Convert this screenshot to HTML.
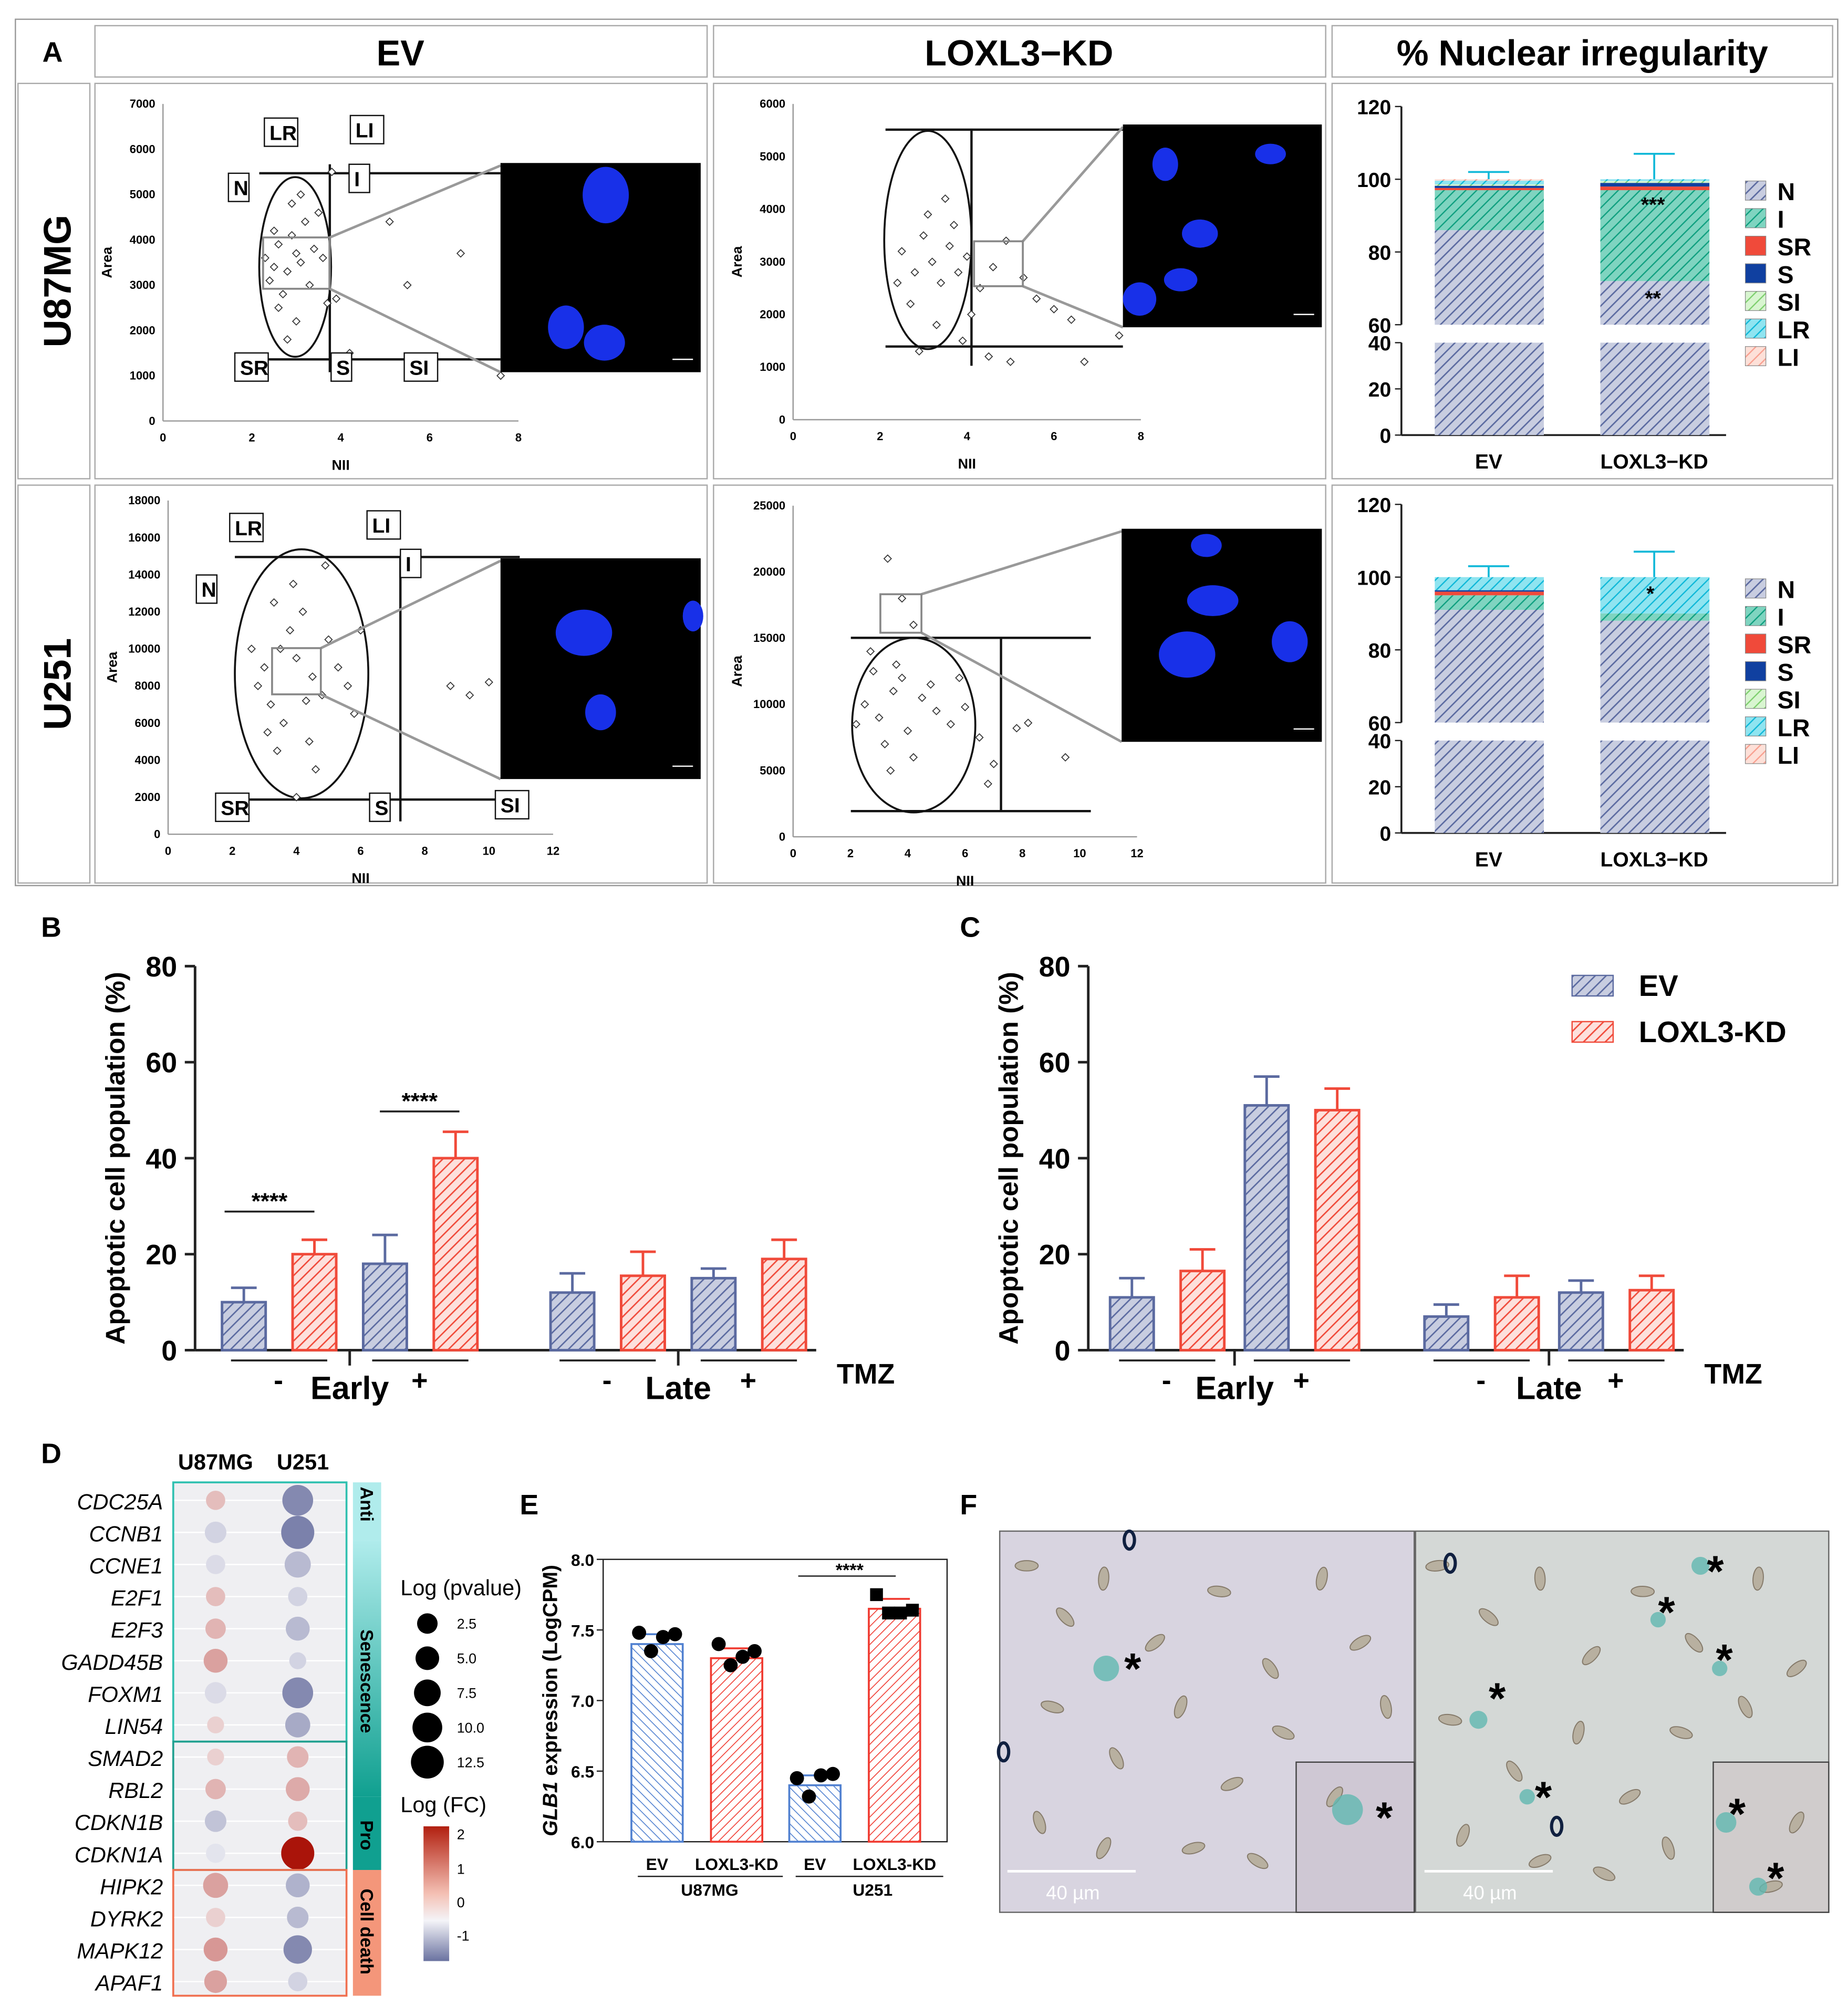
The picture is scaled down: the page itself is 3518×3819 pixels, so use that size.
<!DOCTYPE html>
<html><head><meta charset="utf-8"><style>
html,body{margin:0;padding:0;background:#fff}
svg{display:block}
text{font-family:"Liberation Sans",Arial,sans-serif}
</style></head><body>
<svg id="fig" width="3518" height="3819" viewBox="0 0 1440 1563" preserveAspectRatio="none" xmlns="http://www.w3.org/2000/svg">
<defs>
<pattern id="hBlue" width="6" height="6" patternUnits="userSpaceOnUse" patternTransform="rotate(45)"><rect width="6" height="6" fill="#c8cde0"/><line x1="0" y1="0" x2="0" y2="6" stroke="#5b6aa0" stroke-width="2.2"/></pattern>
<pattern id="hRed" width="6" height="6" patternUnits="userSpaceOnUse" patternTransform="rotate(45)"><rect width="6" height="6" fill="#fde0dc"/><line x1="0" y1="0" x2="0" y2="6" stroke="#f04a3a" stroke-width="2.2"/></pattern>
<pattern id="hTeal" width="6" height="6" patternUnits="userSpaceOnUse" patternTransform="rotate(45)"><rect width="6" height="6" fill="#7fd4c0"/><line x1="0" y1="0" x2="0" y2="6" stroke="#10a080" stroke-width="2"/></pattern>
<pattern id="hCyan" width="6" height="6" patternUnits="userSpaceOnUse" patternTransform="rotate(45)"><rect width="6" height="6" fill="#8fe4f0"/><line x1="0" y1="0" x2="0" y2="6" stroke="#10b8d8" stroke-width="2"/></pattern>
<pattern id="hLgreen" width="6" height="6" patternUnits="userSpaceOnUse" patternTransform="rotate(45)"><rect width="6" height="6" fill="#d8f5d0"/><line x1="0" y1="0" x2="0" y2="6" stroke="#80d070" stroke-width="2"/></pattern>
<pattern id="hPink" width="6" height="6" patternUnits="userSpaceOnUse" patternTransform="rotate(45)"><rect width="6" height="6" fill="#fde0d8"/><line x1="0" y1="0" x2="0" y2="6" stroke="#f8a090" stroke-width="2"/></pattern>
<pattern id="eBlue" width="5" height="5" patternUnits="userSpaceOnUse" patternTransform="rotate(-45)"><rect width="5" height="5" fill="#fff"/><line x1="0" y1="0" x2="0" y2="5" stroke="#5080d0" stroke-width="1.3"/></pattern>
<pattern id="eRed" width="5" height="5" patternUnits="userSpaceOnUse" patternTransform="rotate(45)"><rect width="5" height="5" fill="#fff"/><line x1="0" y1="0" x2="0" y2="5" stroke="#f03a30" stroke-width="1.3"/></pattern>
<linearGradient id="sideG" x1="0" y1="0" x2="0" y2="1"><stop offset="0" stop-color="#b0ecec"/><stop offset="1" stop-color="#10a090"/></linearGradient>
<linearGradient id="fcG" x1="0" y1="0" x2="0" y2="1"><stop offset="0" stop-color="#b22010"/><stop offset="0.5" stop-color="#f4c0b4"/><stop offset="0.7" stop-color="#f4f4f8"/><stop offset="1" stop-color="#6a72a0"/></linearGradient>
</defs>

<g>
<rect x="12" y="15" width="1420" height="675" fill="none" stroke="#999"/>
<text x="33" y="48" font-size="22" font-weight="bold">A</text>
<rect x="74" y="20" width="477" height="40" fill="none" stroke="#aaa"/>
<text x="312" y="51" font-size="28" font-weight="bold" text-anchor="middle">EV</text>
<rect x="556" y="20" width="477" height="40" fill="none" stroke="#aaa"/>
<text x="794" y="51" font-size="28" font-weight="bold" text-anchor="middle">LOXL3−KD</text>
<rect x="1038" y="20" width="390" height="40" fill="none" stroke="#aaa"/>
<text x="1233" y="51" font-size="28" font-weight="bold" text-anchor="middle">% Nuclear irregularity</text>
<rect x="14" y="65" width="56" height="308" fill="none" stroke="#aaa"/>
<text transform="translate(55,219) rotate(-90)" font-size="30" font-weight="bold" text-anchor="middle">U87MG</text>
<rect x="14" y="378" width="56" height="310" fill="none" stroke="#aaa"/>
<text transform="translate(55,533) rotate(-90)" font-size="30" font-weight="bold" text-anchor="middle">U251</text>
<rect x="74" y="65" width="477" height="308" fill="none" stroke="#aaa"/>
<rect x="556" y="65" width="477" height="308" fill="none" stroke="#aaa"/>
<rect x="1038" y="65" width="390" height="308" fill="none" stroke="#aaa"/>
<rect x="74" y="378" width="477" height="310" fill="none" stroke="#aaa"/>
<rect x="556" y="378" width="477" height="310" fill="none" stroke="#aaa"/>
<rect x="1038" y="378" width="390" height="310" fill="none" stroke="#aaa"/>
<g id="scatters"></g>
<g id="stacks"></g>
</g>

<text x="32" y="730" font-size="22" font-weight="bold">B</text>
<text x="748" y="730" font-size="22" font-weight="bold">C</text>
<g id="apop"></g>
<g>
<rect x="1225" y="760" width="32" height="16" fill="url(#hBlue)" stroke="#5b6aa0"/>
<text x="1277" y="776" font-size="23" font-weight="bold">EV</text>
<rect x="1225" y="796" width="32" height="16" fill="url(#hRed)" stroke="#f04a3a"/>
<text x="1277" y="812" font-size="23" font-weight="bold">LOXL3-KD</text>
</g>

<text x="32" y="1140" font-size="22" font-weight="bold">D</text>
<g id="dots"></g>

<text x="405" y="1180" font-size="22" font-weight="bold">E</text>
<g id="glb"></g>

<text x="748" y="1180" font-size="22" font-weight="bold">F</text>
<g>
<rect x="779" y="1193" width="323" height="297" fill="#d8d4e0" stroke="#666"/>
<rect x="1103" y="1193" width="322" height="297" fill="#d4d8d6" stroke="#666"/>
<rect x="1010" y="1373" width="92" height="117" fill="#cfc8d4" stroke="#444"/>
<rect x="1335" y="1373" width="90" height="117" fill="#d0cccc" stroke="#444"/>
<g id="cells"></g>
<line x1="785" y1="1458" x2="885" y2="1458" stroke="#fff" stroke-width="2"/>
<text x="815" y="1480" font-size="15" fill="#fff">40 µm</text>
<line x1="1110" y1="1458" x2="1210" y2="1458" stroke="#fff" stroke-width="2"/>
<text x="1140" y="1480" font-size="15" fill="#fff">40 µm</text>
<g font-size="34" font-weight="bold">
<text x="876" y="1312">*</text><text x="1072" y="1428">*</text>
<text x="1330" y="1236">*</text><text x="1292" y="1268">*</text><text x="1337" y="1305">*</text><text x="1160" y="1335">*</text><text x="1196" y="1412">*</text><text x="1347" y="1425">*</text><text x="1377" y="1475">*</text>
</g>
</g>
</svg>
<script>
const NS="http://www.w3.org/2000/svg";
function mk(p,tag,a,txt){const e=document.createElementNS(NS,tag);for(const k in a)e.setAttribute(k,a[k]);if(txt!==undefined)e.textContent=txt;p.appendChild(e);return e;}

const scU87EV=[[2.3,3600],[2.5,4200],[2.6,3900],[2.8,3300],[2.9,4100],[3.0,3700],[3.1,3500],[2.7,2800],[2.4,3100],[3.2,4400],[3.3,3000],[2.6,2500],[3.4,3800],[2.9,4800],[3.0,2200],[2.5,3400],[3.6,3600],[3.1,5000],[2.8,1800],[3.7,2600],[3.9,2700],[4.2,1500],[5.1,4400],[6.7,3700],[5.5,3000],[7.6,1000],[3.8,5500],[3.5,4600]];
const scU87KD=[[2.5,3200],[2.8,2800],[3.0,3500],[3.2,3000],[3.4,2600],[3.6,3300],[2.7,2200],[3.1,3900],[3.8,2800],[4.0,3100],[4.3,2500],[4.6,2900],[4.9,3400],[5.3,2700],[5.6,2300],[6.0,2100],[6.4,1900],[2.4,2600],[3.5,4200],[3.3,1800],[3.9,1500],[4.5,1200],[5.0,1100],[6.7,1100],[7.5,1600],[2.9,1300],[4.1,2000],[3.7,3700]];
const sc251EV=[[3.0,9000],[3.5,10000],[4.0,9500],[4.5,8500],[3.2,7000],[3.8,11000],[4.2,12000],[2.8,8000],[4.8,7500],[5.0,10500],[3.6,6000],[4.4,5000],[3.3,12500],[3.9,13500],[5.3,9000],[5.6,8000],[2.6,10000],[4.6,3500],[3.4,4500],[4.0,2000],[8.8,8000],[9.4,7500],[10.0,8200],[6.0,11000],[5.8,6500],[4.9,14500],[3.1,5500],[4.3,7200]];
const sc251KD=[[2.5,10000],[3.0,9000],[3.5,11000],[4.0,8000],[4.5,10500],[5.0,9500],[3.2,7000],[3.8,12000],[4.2,6000],[5.5,8500],[6.0,9800],[2.8,12500],[3.6,13000],[4.8,11500],[6.5,7500],[7.0,5500],[3.4,5000],[2.2,8500],[5.8,12000],[7.8,8200],[8.2,8600],[9.5,6000],[3.3,21000],[3.8,18000],[4.2,16000],[6.8,4000],[2.7,14000]];
const scatterDefs=[
 {data:scU87EV,ox:127,oy:328,px:404,py:81,xmax:8,ymax:7000,xt:[0,2,4,6,8],yt:[0,1000,2000,3000,4000,5000,6000,7000],ell:[230,208,28,70],inset:[390,127,156,163],zoom:[205,185,52,40],name:'u87-ev',
  lines:[[202,135,390,135],[202,280,390,280],[257,128,257,290]],labels:[['LR',210,102],['LI',277,100],['N',182,145],['I',276,138],['SR',187,285],['S',262,285],['SI',319,285]]},
 {data:scU87KD,ox:618,oy:327,px:889,py:81,xmax:8,ymax:6000,xt:[0,2,4,6,8],yt:[0,1000,2000,3000,4000,5000,6000],ell:[723,187,34,85],inset:[875,97,155,158],zoom:[759,188,38,35],name:'u87-kd',
  lines:[[690,101,875,101],[690,270,875,270],[757,101,757,285]],labels:[]},
 {data:sc251EV,ox:131,oy:650,px:431,py:390,xmax:12,ymax:18000,xt:[0,2,4,6,8,10,12],yt:[0,2000,4000,6000,8000,10000,12000,14000,16000,18000],ell:[235,525,52,97],inset:[390,435,156,172],zoom:[212,505,38,36],name:'u251-ev',
  lines:[[183,434,405,434],[183,623,405,623],[312,434,312,640]],labels:[['LR',183,410],['LI',290,408],['N',157,458],['I',316,438],['SR',172,628],['S',292,628],['SI',390,626]]},
 {data:sc251KD,ox:618,oy:652,px:886,py:394,xmax:12,ymax:25000,xt:[0,2,4,6,8,10,12],yt:[0,5000,10000,15000,20000,25000],ell:[712,565,48,68],inset:[874,412,156,166],zoom:[686,463,32,30],name:'u251-kd',
  lines:[[663,497,850,497],[663,632,850,632],[780,497,780,632]],labels:[]}
];
const nuclei=[[[472,152,18,22],[441,255,14,17],[471,267,16,14]],[[908,128,10,13],[990,120,12,8],[935,182,14,11],[920,218,13,9],[888,233,13,13]],[[455,493,22,18],[468,555,12,14],[540,480,8,12]],[[940,425,12,9],[945,468,20,12],[925,510,22,18],[1005,500,14,16]]];
const sg=document.getElementById('scatters');
scatterDefs.forEach((d,i)=>{
 const g=mk(sg,'g',{});
 
 
 const sx=v=>d.ox+(d.px-d.ox)*v/d.xmax, sy=v=>d.oy-(d.oy-d.py)*v/d.ymax;
 mk(g,'line',{x1:d.ox,y1:d.oy,x2:d.ox,y2:d.py,stroke:'#999'});
 mk(g,'line',{x1:d.ox,y1:d.oy,x2:d.px,y2:d.oy,stroke:'#999'});
 d.xt.forEach(t=>{mk(g,'text',{x:sx(t),y:d.oy+16,'font-size':9,'font-weight':'bold','text-anchor':'middle'},t);});
 d.yt.forEach(t=>{mk(g,'text',{x:d.ox-6,y:sy(t)+3,'font-size':9,'font-weight':'bold','text-anchor':'end'},t);});
 mk(g,'text',{x:(d.ox+d.px)/2,y:d.oy+38,'font-size':11,'font-weight':'bold','text-anchor':'middle'},'NII');
 mk(g,'text',{transform:`translate(${d.ox-40},${(d.oy+d.py)/2}) rotate(-90)`,'font-size':11,'font-weight':'bold','text-anchor':'middle'},'Area');
 d.lines.forEach(l=>mk(g,'line',{x1:l[0],y1:l[1],x2:l[2],y2:l[3],stroke:'#111','stroke-width':1.8}));
 mk(g,'ellipse',{cx:d.ell[0],cy:d.ell[1],rx:d.ell[2],ry:d.ell[3],fill:'none',stroke:'#111','stroke-width':1.5});
 d.data.forEach(p=>{const x=sx(p[0]),y=sy(p[1]);const m=mk(g,'rect',{x:x-2,y:y-2,width:4,height:4,fill:'#fff',stroke:'#333','stroke-width':0.7,transform:`rotate(45 ${x} ${y})`});
  
  });
 const z=d.zoom,ins=d.inset;
 mk(g,'line',{x1:z[0]+z[2],y1:z[1],x2:ins[0],y2:ins[1]+2,stroke:'#999','stroke-width':2});
 mk(g,'line',{x1:z[0]+z[2],y1:z[1]+z[3],x2:ins[0],y2:ins[1]+ins[3],stroke:'#999','stroke-width':2});
 mk(g,'rect',{x:z[0],y:z[1],width:z[2],height:z[3],fill:'none',stroke:'#888','stroke-width':1.5});
 const im=mk(g,'rect',{x:ins[0],y:ins[1],width:ins[2],height:ins[3],fill:'#000'});
 
 
 nuclei[i].forEach(n=>mk(g,'ellipse',{cx:n[0],cy:n[1],rx:n[2],ry:n[3],fill:'#1830e8'}));
 mk(g,'line',{x1:ins[0]+ins[2]-22,y1:ins[1]+ins[3]-10,x2:ins[0]+ins[2]-6,y2:ins[1]+ins[3]-10,stroke:'#fff'});
 d.labels.forEach(l=>{mk(g,'rect',{x:l[1]-4,y:l[2]-10,width:l[0].length*10+6,height:22,fill:'#fff',stroke:'#111'});
  mk(g,'text',{x:l[1],y:l[2]+7,'font-size':16,'font-weight':'bold'},l[0]);});
});

const stackCats=['N','I','SR','S','SI','LR','LI'];
const stackFills=['url(#hBlue)','url(#hTeal)','#f04a3a','#1040a0','url(#hLgreen)','url(#hCyan)','url(#hPink)'];
const u87EVvals=[86,11,0.6,0.6,0.4,1,0.4];
const u87KDvals=[72,25,1,1,0.5,0.5,0];
const u251EVvals=[91,4,1,0.4,0,3.6,0];
const u251KDvals=[88,2,0,0,0,10,0];
const u87Err=[2,7], u251Err=[3,7];
const stackDefs=[{ev:u87EVvals,kd:u87KDvals,err:u87Err,y0:339,y40:267,y60:253,y120:83,name:'u87'},{ev:u251EVvals,kd:u251KDvals,err:u251Err,y0:649,y40:577,y60:563,y120:393,name:'u251'}];
const stg=document.getElementById('stacks');
stackDefs.forEach(d=>{
 const g=mk(stg,'g',{});
 
 
 const ax=1092;
 const y=v=>v<=40?d.y0-(d.y0-d.y40)*v/40:(v<60?d.y40:d.y60-(d.y60-d.y120)*(v-60)/60);
 mk(g,'line',{x1:ax,y1:d.y0,x2:ax,y2:d.y40,stroke:'#222','stroke-width':1.5});
 mk(g,'line',{x1:ax,y1:d.y60,x2:ax,y2:d.y120,stroke:'#222','stroke-width':1.5});
 mk(g,'line',{x1:ax,y1:d.y0,x2:1345,y2:d.y0,stroke:'#222','stroke-width':1.5});
 [0,20,40,60,80,100,120].forEach(t=>{mk(g,'line',{x1:ax-5,y1:y(t),x2:ax,y2:y(t),stroke:'#222'});mk(g,'text',{x:ax-8,y:y(t)+6,'font-size':16,'font-weight':'bold','text-anchor':'end'},t);});
 [[d.ev,1118,'EV',d.err[0]],[d.kd,1247,'LOXL3−KD',d.err[1]]].forEach(([vals,bx,lab,er])=>{
  let acc=0;
  vals.forEach((v,k)=>{if(v<=0)return;
   if(k===0){const r1=mk(g,'rect',{x:bx,y:y(40),width:85,height:y(0)-y(40),fill:stackFills[0]});
     
     
     const r2=mk(g,'rect',{x:bx,y:y(v),width:85,height:y(60)-y(v),fill:stackFills[0]});
     
     }
   else{const r=mk(g,'rect',{x:bx,y:y(acc+v),width:85,height:y(acc)-y(acc+v),fill:stackFills[k]});
     
     }
   acc+=v;});
  const top=y(acc);
  mk(g,'line',{x1:bx+42,y1:top,x2:bx+42,y2:y(acc+er),stroke:'#10b8d8','stroke-width':1.5});
  mk(g,'line',{x1:bx+26,y1:y(acc+er),x2:bx+58,y2:y(acc+er),stroke:'#10b8d8','stroke-width':1.5});
  mk(g,'text',{x:bx+42,y:d.y0+26,'font-size':16,'font-weight':'bold','text-anchor':'middle'},lab);
 });
 stackCats.forEach((c,k)=>{const ly=y(120)+58+k*21.5;
  mk(g,'rect',{x:1360,y:ly,width:16,height:15,fill:stackFills[k],stroke:'#888','stroke-width':0.5});
  mk(g,'text',{x:1385,y:ly+15,'font-size':19,'font-weight':'bold'},c);});
});
mk(stg,'text',{x:1288,y:165,'font-size':16,'font-weight':'bold','text-anchor':'middle'},'***');
mk(stg,'text',{x:1288,y:238,'font-size':16,'font-weight':'bold','text-anchor':'middle'},'**');
mk(stg,'text',{x:1286,y:468,'font-size':16,'font-weight':'bold','text-anchor':'middle'},'*');

const bEV=[10,18,12,15], bKD=[20,40,15.5,19], bEVerr=[3,6,4,2], bKDerr=[3,5.5,5,4];
const cEV=[11,51,7,12], cKD=[16.5,50,11,12.5], cEVerr=[4,6,2.5,2.5], cKDerr=[4.5,4.5,4.5,3];
const yTicksBC=[0,20,40,60,80];
const ap=document.getElementById('apop');
[{ev:bEV,kd:bKD,ee:bEVerr,ke:bKDerr,ax:152,cx:[190,300,446,556],name:'b',tmz:652},{ev:cEV,kd:cKD,ee:cEVerr,ke:cKDerr,ax:848,cx:[882,987,1127,1232],name:'c',tmz:1328}].forEach(d=>{
 const g=mk(ap,'g',{});
 
 
 const y0=1052,y=v=>y0-v*3.74;
 mk(g,'line',{x1:d.ax,y1:y0,x2:d.ax,y2:y(80),stroke:'#222','stroke-width':2});
 mk(g,'line',{x1:d.ax,y1:y0,x2:d.cx[3]+80,y2:y0,stroke:'#222','stroke-width':2});
 yTicksBC.forEach(t=>{mk(g,'line',{x1:d.ax-8,y1:y(t),x2:d.ax,y2:y(t),stroke:'#222','stroke-width':2});
  mk(g,'text',{x:d.ax-14,y:y(t)+8,'font-size':22,'font-weight':'bold','text-anchor':'end'},t);});
 mk(g,'text',{transform:`translate(${d.ax-55},${y(40)}) rotate(-90)`,'font-size':21,'font-weight':'bold','text-anchor':'middle'},'Apoptotic cell population (%)');
 d.cx.forEach((c,i)=>{
  [[d.ev[i],d.ee[i],c,'url(#hBlue)','#5b6aa0','ev'],[d.kd[i],d.ke[i],c+55,'url(#hRed)','#f04a3a','kd']].forEach(([v,e,x,f,s,nm])=>{
   const r=mk(g,'rect',{x:x-17,y:y(v),width:34,height:y0-y(v),fill:f,stroke:s,'stroke-width':2});
   
   
   mk(g,'line',{x1:x,y1:y(v),x2:x,y2:y(v+e),stroke:s,'stroke-width':2});
   mk(g,'line',{x1:x-10,y1:y(v+e),x2:x+10,y2:y(v+e),stroke:s,'stroke-width':2});
  });
  mk(g,'line',{x1:c-10,y1:1060,x2:c+65,y2:1060,stroke:'#222','stroke-width':1.5});
  mk(g,'text',{x:c+27,y:1083,'font-size':22,'font-weight':'bold','text-anchor':'middle'},i%2?'+':'-');
 });
 mk(g,'line',{x1:(d.cx[0]+d.cx[1]+55)/2,y1:1052,x2:(d.cx[0]+d.cx[1]+55)/2,y2:1064,stroke:'#222','stroke-width':2});
 mk(g,'line',{x1:(d.cx[2]+d.cx[3]+55)/2,y1:1052,x2:(d.cx[2]+d.cx[3]+55)/2,y2:1064,stroke:'#222','stroke-width':2});
 mk(g,'text',{x:(d.cx[0]+d.cx[1]+55)/2,y:1090,'font-size':25,'font-weight':'bold','text-anchor':'middle'},'Early');
 mk(g,'text',{x:(d.cx[2]+d.cx[3]+55)/2,y:1090,'font-size':25,'font-weight':'bold','text-anchor':'middle'},'Late');
 mk(g,'text',{x:d.tmz,y:1078,'font-size':22,'font-weight':'bold'},'TMZ');
});
[[175,245,940],[296,358,862]].forEach(s=>{mk(ap,'line',{x1:s[0],y1:s[2]+4,x2:s[1],y2:s[2]+4,stroke:'#222','stroke-width':1.5});
 mk(ap,'text',{x:(s[0]+s[1])/2,y:s[2]+2,'font-size':18,'font-weight':'bold','text-anchor':'middle'},'****');});

const genes=['CDC25A','CCNB1','CCNE1','E2F1','E2F3','GADD45B','FOXM1','LIN54','SMAD2','RBL2','CDKN1B','CDKN1A','HIPK2','DYRK2','MAPK12','APAF1'];
const fcU87=[0.5,-0.3,-0.2,0.5,0.6,0.8,-0.2,0.3,0.3,0.6,-0.5,-0.1,0.8,0.3,0.9,0.8];
const fcU251=[-1.2,-1.3,-0.6,-0.3,-0.6,-0.3,-1.2,-0.8,0.6,0.7,0.5,2.3,-0.7,-0.6,-1.2,-0.3];
const pU87=[5,6,5,5,5.5,7,6,4,4,5.5,6,5,7.5,5,7,6.5];
const pU251=[10,11,8,5,7,4,10,7.5,6,7,5,11,7,6,9,5];
function fcColor(v){const t=Math.max(-1.5,Math.min(2.3,v));
 if(t>=0){const a=t/2.3;return `rgb(${Math.round(244-(244-170)*a)},${Math.round(236-(236-20)*a)},${Math.round(238-(238-10)*a)})`;}
 const a=-t/1.5;return `rgb(${Math.round(236-(236-106)*a)},${Math.round(236-(236-112)*a)},${Math.round(242-(242-160)*a)})`;}
const dg=document.getElementById('dots');
mk(dg,'rect',{x:135,y:1155,width:135,height:400,fill:'#efeff2'});
mk(dg,'text',{x:168,y:1145,'font-size':17,'font-weight':'bold','text-anchor':'middle'},'U87MG');
mk(dg,'text',{x:236,y:1145,'font-size':17,'font-weight':'bold','text-anchor':'middle'},'U251');
genes.forEach((gn,i)=>{const yy=1169+i*25;
 mk(dg,'line',{x1:135,y1:yy,x2:270,y2:yy,stroke:'#fff','stroke-width':1});
 mk(dg,'text',{x:127,y:yy+7,'font-size':17,'font-style':'italic','text-anchor':'end'},gn);
 const c1=mk(dg,'circle',{cx:168,cy:yy,r:3+pU87[i]*0.9,fill:fcColor(fcU87[i])});
 
 
 const c2=mk(dg,'circle',{cx:232,cy:yy,r:3+pU251[i]*0.9,fill:fcColor(fcU251[i])});
 
 
});
mk(dg,'rect',{x:135,y:1155,width:135,height:202,fill:'none',stroke:'#30c0b0','stroke-width':1.5});
mk(dg,'rect',{x:135,y:1357,width:135,height:100,fill:'none',stroke:'#20a090','stroke-width':1.5});
mk(dg,'rect',{x:135,y:1457,width:135,height:98,fill:'none',stroke:'#f07050','stroke-width':1.5});
mk(dg,'rect',{x:275,y:1155,width:22,height:45,fill:'#b0ecec'});
mk(dg,'rect',{x:275,y:1200,width:22,height:200,fill:'url(#sideG)'});
mk(dg,'rect',{x:275,y:1400,width:22,height:57,fill:'#10a090'});
mk(dg,'rect',{x:275,y:1457,width:22,height:98,fill:'#f4967a'});
[['Anti',1172],['Senescence',1310],['Pro',1430],['Cell death',1505]].forEach(l=>mk(dg,'text',{transform:`translate(281,${l[1]}) rotate(90)`,'font-size':14,'font-weight':'bold','text-anchor':'middle'},l[0]));
mk(dg,'text',{x:312,y:1243,'font-size':17},'Log (pvalue)');
const pLegend=[2.5,5.0,7.5,10.0,12.5];
pLegend.forEach((p,i)=>{const yy=1265+i*27;mk(dg,'circle',{cx:333,cy:yy,r:8+i*1.2,fill:'#000'});mk(dg,'text',{x:356,y:yy+4,'font-size':11},p.toFixed(1));});
mk(dg,'text',{x:312,y:1412,'font-size':17},'Log (FC)');
mk(dg,'rect',{x:330,y:1423,width:20,height:105,fill:'url(#fcG)'});
[[2,1433],[1,1460],[0,1486],[-1,1512]].forEach(t=>mk(dg,'text',{x:356,y:t[1],'font-size':11},t[0]));

const glbCats=['EV','LOXL3-KD','EV','LOXL3-KD'];
const glbMeans=[7.4,7.3,6.4,7.65];
const glbPts=[[7.48,7.35,7.45,7.47],[7.4,7.25,7.31,7.35],[6.45,6.32,6.47,6.48],[7.75,7.62,7.62,7.64]];
const glbTicks=[6.0,6.5,7.0,7.5,8.0];
const eg=document.getElementById('glb');
const ey=v=>1435-(v-6)*110;
mk(eg,'rect',{x:470,y:1215,width:268,height:220,fill:'none',stroke:'#222','stroke-width':1});
glbTicks.forEach(t=>{mk(eg,'line',{x1:465,y1:ey(t),x2:470,y2:ey(t),stroke:'#222'});mk(eg,'text',{x:463,y:ey(t)+5,'font-size':13,'font-weight':'bold','text-anchor':'end'},t.toFixed(1));});
const yl=mk(eg,'text',{transform:'translate(434,1325) rotate(-90)','font-size':16,'font-weight':'bold','text-anchor':'middle'});
mk(yl,'tspan',{'font-style':'italic'},'GLB1');
mk(yl,'tspan',{},' expression (LogCPM)');
const ex=[512,574,635,697];
glbMeans.forEach((m,i)=>{const blue=i%2===0,s=blue?'#5080d0':'#f03a30';
 const r=mk(eg,'rect',{x:ex[i]-20,y:ey(m),width:40,height:1435-ey(m),fill:blue?'url(#eBlue)':'url(#eRed)',stroke:s,'stroke-width':1.5});
 
 
 mk(eg,'line',{x1:ex[i]-12,y1:ey(m+0.07),x2:ex[i]+12,y2:ey(m+0.07),stroke:s,'stroke-width':1.5});
 glbPts[i].forEach((p,k)=>{const px=ex[i]-14+k*(28/3);
  if(i===3)mk(eg,'rect',{x:px-5,y:ey(p)-5,width:10,height:10,fill:'#000'});
  else mk(eg,'circle',{cx:px,cy:ey(p),r:5.5,fill:'#000'});});
 mk(eg,'text',{x:ex[i],y:1457,'font-size':13,'font-weight':'bold','text-anchor':'middle'},glbCats[i]);
});
mk(eg,'line',{x1:497,y1:1462,x2:610,y2:1462,stroke:'#222'});
mk(eg,'line',{x1:620,y1:1462,x2:735,y2:1462,stroke:'#222'});
mk(eg,'text',{x:553,y:1477,'font-size':13,'font-weight':'bold','text-anchor':'middle'},'U87MG');
mk(eg,'text',{x:680,y:1477,'font-size':13,'font-weight':'bold','text-anchor':'middle'},'U251');
mk(eg,'line',{x1:622,y1:1228,x2:698,y2:1228,stroke:'#222'});
mk(eg,'text',{x:662,y:1228,'font-size':14,'font-weight':'bold','text-anchor':'middle'},'****');

const cg=document.getElementById('cells');
const cellPos=[[800,1220],[830,1260],[860,1230],[900,1280],[950,1240],[990,1300],[1030,1230],[1060,1280],[820,1330],[870,1370],[920,1330],[960,1390],[1000,1350],[810,1420],[860,1440],[930,1440],[980,1450],[1080,1330],[1040,1400],
[1120,1220],[1160,1260],[1200,1230],[1240,1290],[1280,1240],[1320,1280],[1370,1230],[1400,1300],[1130,1340],[1180,1380],[1230,1350],[1270,1400],[1310,1350],[1360,1330],[1140,1430],[1200,1450],[1250,1460],[1300,1440],[1400,1420],[1380,1470]];
cellPos.forEach((p,i)=>mk(cg,'ellipse',{cx:p[0],cy:p[1],rx:9,ry:4,transform:`rotate(${(i*47)%180} ${p[0]} ${p[1]})`,fill:'#b8b0a0',stroke:'#857a6a','stroke-width':0.8}));
[[862,1300,10],[1050,1410,12],[1325,1220,7],[1292,1262,6],[1340,1300,6],[1152,1340,7],[1190,1400,6],[1345,1420,8],[1370,1470,7]].forEach(b=>mk(cg,'circle',{cx:b[0],cy:b[1],r:b[2],fill:'#60b8b0',opacity:0.8}));
[[880,1200],[782,1365],[1130,1218],[1213,1423]].forEach(b=>mk(cg,'ellipse',{cx:b[0],cy:b[1],rx:4,ry:7,fill:'none',stroke:'#102040','stroke-width':2.5}));
</script>
</body></html>
